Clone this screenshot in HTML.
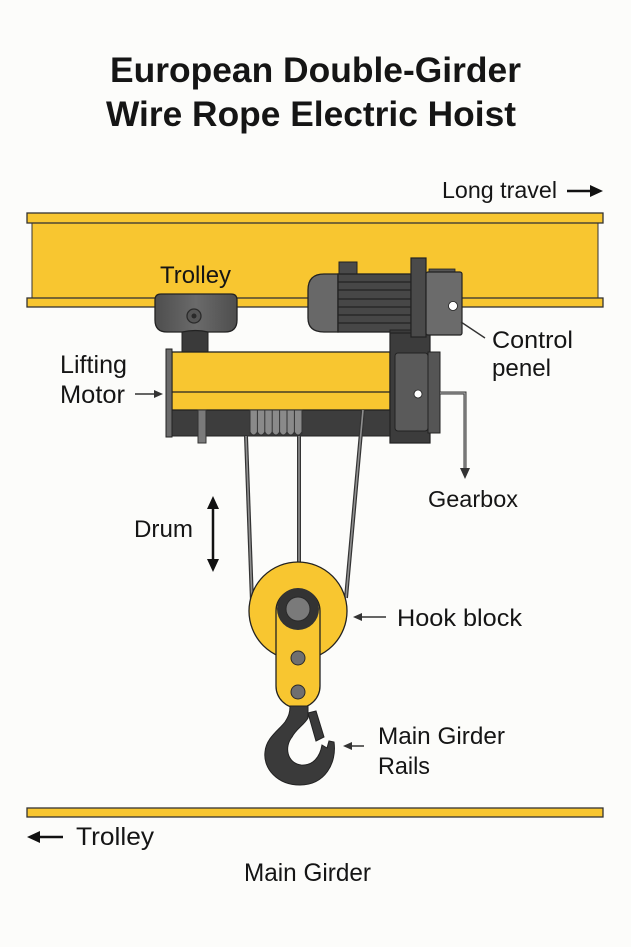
<!DOCTYPE html>
<html><head><meta charset="utf-8"><style>
html,body{margin:0;padding:0;background:#fcfcfa;}
svg{display:block;}
text{font-family:"Liberation Sans",Arial,sans-serif;fill:#151515;}
</style></head><body>
<svg width="631" height="947" viewBox="0 0 631 947" xmlns="http://www.w3.org/2000/svg">
<defs>
<linearGradient id="tg" x1="0" x2="1" y1="0" y2="0">
<stop offset="0" stop-color="#4e4e4e"/><stop offset="0.5" stop-color="#6a6a6a"/><stop offset="1" stop-color="#4e4e4e"/>
</linearGradient>
</defs>
<rect width="631" height="947" fill="#fcfcfa"/>

<!-- Title -->
<text x="110" y="82" font-size="35" font-weight="bold" textLength="411" lengthAdjust="spacingAndGlyphs">European Double-Girder</text>
<text x="106" y="126" font-size="35" font-weight="bold" textLength="410" lengthAdjust="spacingAndGlyphs">Wire Rope Electric Hoist</text>

<!-- Long travel -->
<text x="442" y="198" font-size="23" textLength="115" lengthAdjust="spacingAndGlyphs">Long travel</text>
<line x1="567" y1="191" x2="592" y2="191" stroke="#111" stroke-width="2.5"/>
<polygon points="603,191 590,185 590,197" fill="#111"/>

<!-- Top girder -->
<rect x="32" y="222" width="566" height="77" fill="#f8c630" stroke="#333" stroke-width="1"/>
<rect x="27" y="213" width="576" height="10" fill="#f8c630" stroke="#333" stroke-width="1.3"/>
<rect x="27" y="298" width="576" height="9" fill="#f8c630" stroke="#333" stroke-width="1.3"/>
<text x="160" y="283" font-size="24" textLength="71" lengthAdjust="spacingAndGlyphs">Trolley</text>

<!-- Trolley wheel block -->
<rect x="182" y="330" width="26" height="23" fill="#3a3a3a" stroke="#222" stroke-width="1"/>
<path d="M161,294 L231,294 Q237,294 237,300 L237,320 Q237,332 225,332 L208,332 Q196,329 182,332 L167,332 Q155,332 155,320 L155,300 Q155,294 161,294 Z" fill="url(#tg)" stroke="#222" stroke-width="1.3"/>
<circle cx="194" cy="316" r="7" fill="#555" stroke="#2a2a2a" stroke-width="1.3"/>
<circle cx="194" cy="316" r="2.5" fill="#2a2a2a"/>

<!-- Hoist body -->
<rect x="172" y="410" width="218" height="26" fill="#3d3d3d" stroke="#222" stroke-width="1"/>
<rect x="172" y="352" width="218" height="58" fill="#f8c630" stroke="#222" stroke-width="1.3"/>
<line x1="172" y1="392" x2="390" y2="392" stroke="#222" stroke-width="1.3"/>
<rect x="166" y="349" width="6" height="88" fill="#6a6a6a" stroke="#222" stroke-width="1"/>
<rect x="198" y="410" width="8" height="33" fill="#7a7a7a" stroke="#333" stroke-width="1"/>

<!-- Drum coils -->
<g stroke="#333" stroke-width="1">
<rect x="250" y="410" width="52" height="24" fill="#8a8a8a"/>
<path d="M250,432 q3.7,6 7.4,0 q3.7,6 7.4,0 q3.7,6 7.4,0 q3.7,6 7.4,0 q3.7,6 7.4,0 q3.7,6 7.4,0 q3.7,6 7.4,0" fill="#8a8a8a"/>
<line x1="257.4" y1="410" x2="257.4" y2="434"/>
<line x1="264.8" y1="410" x2="264.8" y2="434"/>
<line x1="272.2" y1="410" x2="272.2" y2="434"/>
<line x1="279.6" y1="410" x2="279.6" y2="434"/>
<line x1="287" y1="410" x2="287" y2="434"/>
<line x1="294.4" y1="410" x2="294.4" y2="434"/>
</g>

<!-- Ropes -->
<g stroke="#333" stroke-width="4" fill="none">
<line x1="246" y1="436" x2="252" y2="602"/>
<line x1="299" y1="436" x2="299" y2="565"/>
<line x1="363" y1="410" x2="346" y2="598"/>
</g>
<g stroke="#8f8f8f" stroke-width="1.6" fill="none">
<line x1="246" y1="436" x2="252" y2="602"/>
<line x1="299" y1="436" x2="299" y2="565"/>
<line x1="363" y1="410" x2="346" y2="598"/>
</g>

<!-- Motor -->
<rect x="339" y="262" width="18" height="14" fill="#4a4a4a" stroke="#222" stroke-width="1"/>
<path d="M338,274 L324,274 Q308,274 308,290 L308,318 Q308,332 324,332 L338,332 Z" fill="#686868" stroke="#222" stroke-width="1.3"/>
<rect x="338" y="274" width="73" height="58" fill="#474747" stroke="#222" stroke-width="1.3"/>
<g stroke="#222" stroke-width="1.2">
<line x1="338" y1="282" x2="411" y2="282"/>
<line x1="338" y1="290" x2="411" y2="290"/>
<line x1="338" y1="299" x2="411" y2="299"/>
<line x1="338" y1="307" x2="411" y2="307"/>
<line x1="338" y1="315" x2="411" y2="315"/>
<line x1="338" y1="323" x2="411" y2="323"/>
</g>
<!-- connecting column -->
<rect x="390" y="330" width="40" height="25" fill="#3a3a3a" stroke="#222" stroke-width="1"/>
<!-- Gearbox -->
<rect x="390" y="333" width="40" height="110" fill="#3c3c3c" stroke="#222" stroke-width="1.2"/>
<rect x="428" y="352" width="12" height="81" fill="#555" stroke="#222" stroke-width="1"/>
<rect x="395" y="353" width="33" height="78" rx="3" fill="#5a5a5a" stroke="#222" stroke-width="1"/>
<circle cx="418" cy="394" r="4" fill="#fff" stroke="#222" stroke-width="0.8"/>
<!-- Flange plate & control box -->
<rect x="411" y="258" width="15" height="79" fill="#4a4a4a" stroke="#222" stroke-width="1.2"/>
<rect x="429" y="269" width="26" height="5" fill="#555" stroke="#222" stroke-width="0.8"/>
<rect x="426" y="272" width="36" height="63" rx="2" fill="#6b6b6b" stroke="#222" stroke-width="1.2"/>
<circle cx="453" cy="306" r="4.5" fill="#fff" stroke="#222" stroke-width="0.8"/>

<!-- Control panel leader -->
<line x1="461" y1="322" x2="485" y2="338" stroke="#333" stroke-width="1.4"/>
<text x="492" y="348" font-size="24" textLength="81" lengthAdjust="spacingAndGlyphs">Control</text>
<text x="492" y="376" font-size="24" textLength="59" lengthAdjust="spacingAndGlyphs">penel</text>

<!-- Gearbox leader -->
<polyline points="440,393 465,393 465,470" fill="none" stroke="#333" stroke-width="3"/>
<polyline points="440,393 465,393 465,470" fill="none" stroke="#bbb" stroke-width="1"/>
<polygon points="465,479 460,468 470,468" fill="#333"/>
<text x="428" y="507" font-size="23" textLength="90" lengthAdjust="spacingAndGlyphs">Gearbox</text>

<!-- Lifting motor -->
<text x="60" y="373" font-size="25" textLength="67" lengthAdjust="spacingAndGlyphs">Lifting</text>
<text x="60" y="403" font-size="25" textLength="65" lengthAdjust="spacingAndGlyphs">Motor</text>
<line x1="135" y1="394" x2="156" y2="394" stroke="#333" stroke-width="1.5"/>
<polygon points="163,394 154,390 154,398" fill="#333"/>

<!-- Drum -->
<text x="134" y="537" font-size="24" textLength="59" lengthAdjust="spacingAndGlyphs">Drum</text>
<line x1="213" y1="505" x2="213" y2="563" stroke="#111" stroke-width="2.5"/>
<polygon points="213,496 207,509 219,509" fill="#111"/>
<polygon points="213,572 207,559 219,559" fill="#111"/>

<!-- Hook block -->
<circle cx="298" cy="611" r="49" fill="#f8c630" stroke="#222" stroke-width="1.3"/>
<rect x="276" y="589" width="44" height="119" rx="22" fill="#f8c630" stroke="#222" stroke-width="1.3"/>
<circle cx="298" cy="609" r="21" fill="#333"/>
<circle cx="298" cy="609" r="12" fill="#7a7a7a" stroke="#2a2a2a" stroke-width="1"/>
<circle cx="298" cy="658" r="7" fill="#6f6f6f" stroke="#2a2a2a" stroke-width="1"/>
<circle cx="298" cy="692" r="7" fill="#6f6f6f" stroke="#2a2a2a" stroke-width="1"/>

<!-- Hook -->
<path d="M290,706 L308,706 L308,718 C304,725 296,729 292,737 C284,747 287,763 301,765 C313,766 320,757 322,745 L327,748 L329,741 L334,742 C337,763 325,785 300,785 C277,785 263,768 265,752 C266,738 279,730 285,722 C289,716 290,712 290,706 Z" fill="#3a3a3a" stroke="#222" stroke-width="1"/>
<polygon points="308,713 316,711 324,737 316,741" fill="#3a3a3a" stroke="#222" stroke-width="1"/>

<text x="397" y="626" font-size="24" textLength="125" lengthAdjust="spacingAndGlyphs">Hook block</text>
<line x1="386" y1="617" x2="360" y2="617" stroke="#333" stroke-width="1.5"/>
<polygon points="353,617 362,613 362,621" fill="#333"/>

<text x="378" y="744" font-size="24" textLength="127" lengthAdjust="spacingAndGlyphs">Main Girder</text>
<text x="378" y="774" font-size="24" textLength="52" lengthAdjust="spacingAndGlyphs">Rails</text>
<line x1="364" y1="746" x2="350" y2="746" stroke="#333" stroke-width="1.5"/>
<polygon points="343,746 352,742 352,750" fill="#333"/>

<!-- Bottom rail -->
<rect x="27" y="808" width="576" height="9" fill="#f8c630" stroke="#333" stroke-width="1.3"/>
<line x1="38" y1="837" x2="63" y2="837" stroke="#111" stroke-width="2.5"/>
<polygon points="27,837 40,831 40,843" fill="#111"/>
<text x="76" y="845" font-size="25" textLength="78" lengthAdjust="spacingAndGlyphs">Trolley</text>
<text x="244" y="881" font-size="25" textLength="127" lengthAdjust="spacingAndGlyphs">Main Girder</text>
</svg>
</body></html>
